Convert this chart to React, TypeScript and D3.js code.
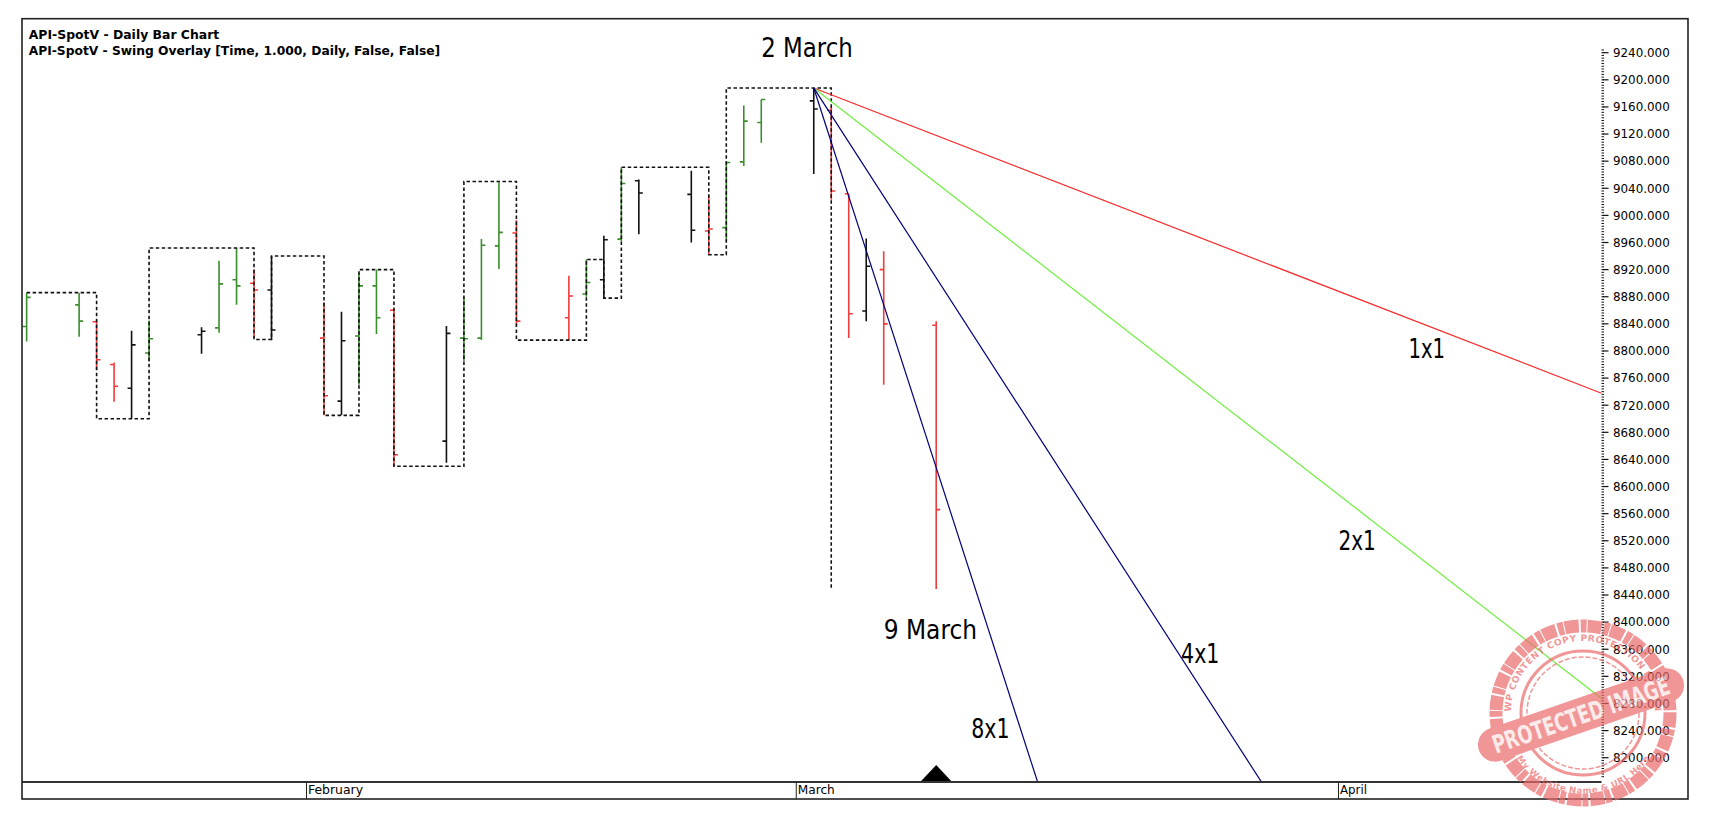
import React from 'react';
import * as d3 from 'd3';

// ---------- data ----------
const barDates = [
  '2015-01-16', '2015-01-19', '2015-01-20', '2015-01-21', '2015-01-22', '2015-01-23',
  '2015-01-26', '2015-01-27', '2015-01-28', '2015-01-29', '2015-01-30',
  '2015-02-02', '2015-02-03', '2015-02-04', '2015-02-05', '2015-02-06',
  '2015-02-09', '2015-02-10', '2015-02-11', '2015-02-12', '2015-02-13',
  '2015-02-16', '2015-02-17', '2015-02-18', '2015-02-19', '2015-02-20',
  '2015-02-23', '2015-02-24', '2015-02-25', '2015-02-26', '2015-02-27',
  '2015-03-02', '2015-03-03', '2015-03-04', '2015-03-05', '2015-03-06',
  '2015-03-09',
];
const barOpens = [
  8836, 8868, 8843, 8780, 8745, 8797,
  8824, 8834, 8905, 8900, 8890,
  8819, 8726, 8822, 8896, 8860,
  8667, 8819, 8819, 8955, 8974,
  8849, 8884, 8905, 8965, 9051,
  9031, 8977, 8982, 9079, 9137,
  9169, 9155, 9032, 8859, 8920,
  8838,
];
const barHighs = [
  8886, 8886, 8845, 8783, 8830, 8845,
  8835, 8933, 8952, 8920, 8940,
  8872, 8858, 8915, 8920, 8862,
  8837, 8878, 8965, 9049, 8993,
  8911, 8935, 8970, 9071, 9053,
  9066, 9029, 9080, 9162, 9171,
  9188, 9160, 9032, 8966, 8947,
  8844,
];
const barLows = [
  8814, 8821, 8772, 8725, 8700, 8785,
  8796, 8827, 8868, 8819, 8816,
  8705, 8705, 8750, 8825, 8630,
  8635, 8785, 8816, 8921, 8838,
  8816, 8880, 8878, 8962, 8972,
  8960, 8942, 8962, 9073, 9107,
  9061, 9023, 8819, 8844, 8750,
  8449,
];
const barCloses = [
  8879, 8844, 8787, 8748, 8809, 8818,
  8829, 8899, 8896, 8890, 8831,
  8734, 8815, 8896, 8849, 8647,
  8826, 8818, 8956, 8975, 8844,
  8881, 8901, 8964, 9047, 9033,
  8978, 8980, 9078, 9139, 9171,
  9157, 9036, 8855, 8925, 8840,
  8566,
];
// g = up swing bar, r = down swing bar, k = inside/outside bar
const barKinds = [
  'g', 'g', 'r', 'r', 'k', 'g',
  'k', 'g', 'g', 'r', 'k',
  'r', 'k', 'g', 'g', 'r',
  'k', 'g', 'g', 'g', 'r',
  'r', 'g', 'k', 'g', 'k',
  'k', 'r', 'g', 'g', 'g',
  'k', 'r', 'r', 'k', 'r',
  'r',
];

const swingDates = [
  '2015-01-16', '2015-01-20', '2015-01-23', '2015-01-29', '2015-01-30', '2015-02-02',
  '2015-02-04', '2015-02-06', '2015-02-10', '2015-02-13', '2015-02-17', '2015-02-18',
  '2015-02-19', '2015-02-24', '2015-02-25', '2015-03-03',
];
const swingValues = [
  8886, 8700, 8952, 8817, 8940, 8705,
  8920, 8630, 9050, 8816, 8935, 8878,
  9071, 8942, 9188, 8450,
];

const fanOriginDate = '2015-03-02';
const fanOriginValue = 9188;
const fanRates = [10, 20, 40, 80]; // points per calendar day
const fanNames = ['1x1', '2x1', '4x1', '8x1'];
const fanColors = ['#f52a2a', '#6cf03c', '#00007a', '#00007a'];

const annotationTexts = ['2 March', '9 March', '1x1', '2x1', '4x1', '8x1'];
const annotationDates = ['2015-02-27', '2015-03-06', '2015-04-05', '2015-04-01', '2015-03-23', '2015-03-11'];
const annotationValues = [9233, 8375, 8790, 8506, 8340, 8229];
const annotationWidths = [91.6, 93.4, 36.7, 37.3, 38.3, 38.3];

const priceTicks = d3.range(8200, 9241, 40);
const monthDates = ['2015-02-01', '2015-03-01', '2015-04-01'];
const monthNames = ['February', 'March', 'April'];
const monthWidths = [55, 37, 27];

const titleLines = [
  'API-SpotV - Daily Bar Chart',
  'API-SpotV - Swing Overlay [Time, 1.000, Daily, False, False]',
];
const titleWidths = [190.6, 411.5];

const markerDate = '2015-03-09';

// ---------- layout ----------
const W = 1722;
const H = 824;
const FRAME = { left: 22, top: 18.7, right: 1688, bottom: 799 };
const PLOT = { left: 22, top: 18.7, right: 1601.5, bottom: 782 };

const colorOf: Record<string, string> = { g: '#3b8e2c', r: '#f23b3b', k: '#111111' };

export default function App() {
  const parse = d3.utcParse('%Y-%m-%d');
  const p = (s: string) => parse(s) as Date;
  const x = d3.scaleUtc().domain([p('2015-02-01'), p('2015-04-01')]).range([306.5, 1338.5]);
  const y = d3.scaleLinear().domain([8200, 9240]).range([757.7, 52.7]);

  const tickLen = 4;
  const bars = barDates.map((d, i) => {
    const cx = x(p(d));
    return {
      key: d,
      color: colorOf[barKinds[i]],
      path: `M${cx},${y(barHighs[i])}V${y(barLows[i])}M${cx - tickLen},${y(barOpens[i])}H${cx}M${cx},${y(barCloses[i])}H${cx + tickLen}`,
    };
  });

  const swingLine = d3
    .line<number>()
    .x((i) => x(p(swingDates[i])))
    .y((i) => y(swingValues[i]))
    .curve(d3.curveStepAfter)(swingDates.map((_, i) => i)) as string;

  const origin = p(fanOriginDate);
  const dayMs = 86400000;
  const daysToRight = (x.invert(PLOT.right).getTime() - origin.getTime()) / dayMs;
  const bottomValue = y.invert(PLOT.bottom);
  const fans = fanRates.map((r, i) => {
    const t = Math.min(daysToRight, (fanOriginValue - bottomValue) / r);
    const end = new Date(origin.getTime() + t * dayMs);
    return {
      key: fanNames[i],
      color: fanColors[i],
      x1: x(origin), y1: y(fanOriginValue),
      x2: x(end), y2: y(fanOriginValue - r * t),
    };
  });

  const minorTicks = d3.range(8164, 9248, 4).filter((v) => y(v) < PLOT.bottom - 4 && y(v) > PLOT.top + 28);

  const markerX = x(p(markerDate));

  // stamp
  const sc = { x: 1583, y: 713 };
  const stampColor = '#ec6b6b';

  return (
    <svg width={W} height={H} style={{ position: 'absolute', left: 0, top: 0, background: '#fff' }}
      fontFamily="'DejaVu Sans', Verdana, sans-serif">
      <defs>
        <clipPath id="plotClip">
          <rect x={PLOT.left} y={PLOT.top} width={PLOT.right - PLOT.left} height={PLOT.bottom - PLOT.top} />
        </clipPath>
        <path id="arcTop" d={`M${sc.x - 72},${sc.y} A72,72 0 0,1 ${sc.x + 72},${sc.y}`} />
        <path id="arcBottom" d={`M${sc.x - 74},${sc.y} A74,74 0 0,0 ${sc.x + 74},${sc.y}`} />
      </defs>
      <rect x={0} y={0} width={W} height={H} fill="#fff" />

      {/* titles */}
      {titleLines.map((t, i) => (
        <text key={t} x={28.7} y={38.5 + i * 16.5} fontSize={11.5} fontWeight="bold" fill="#000"
          textLength={titleWidths[i]} lengthAdjust="spacingAndGlyphs">{t}</text>
      ))}

      <g clipPath="url(#plotClip)">
        {/* bars */}
        {bars.map((b) => (
          <path key={b.key} d={b.path} stroke={b.color} strokeWidth={1.6} fill="none" />
        ))}
        {/* swing overlay */}
        <path d={swingLine} stroke="#111" strokeWidth={1.6} strokeDasharray="3.5 2.5" fill="none" />
        {/* fan lines */}
        {fans.map((f) => (
          <line key={f.key} x1={f.x1} y1={f.y1} x2={f.x2} y2={f.y2} stroke={f.color} strokeWidth={1.2} />
        ))}
      </g>

      {/* annotations */}
      {annotationTexts.map((t, i) => (
        <text key={t} x={x(p(annotationDates[i]))} y={y(annotationValues[i])} fontSize={26} fill="#000"
          textLength={annotationWidths[i]} lengthAdjust="spacingAndGlyphs">{t}</text>
      ))}

      {/* price axis */}
      {minorTicks.map((v) => (
        <line key={'m' + v} x1={PLOT.right} x2={PLOT.right + 2.5} y1={y(v)} y2={y(v)} stroke="#111" strokeWidth={1} />
      ))}
      {priceTicks.map((v) => (
        <g key={v}>
          <line x1={PLOT.right + 1} x2={PLOT.right + 7} y1={y(v)} y2={y(v)} stroke="#111" strokeWidth={1.2} />
          <text x={1613} y={y(v)} dy="0.36em" fontSize={12} fill="#000"
            textLength={56.7} lengthAdjust="spacingAndGlyphs">{d3.format('.3f')(v)}</text>
        </g>
      ))}

      {/* time axis */}
      <line x1={FRAME.left} x2={PLOT.right} y1={PLOT.bottom} y2={PLOT.bottom} stroke="#333" strokeWidth={2} />
      {monthDates.map((d, i) => {
        const mx = x(p(d));
        return (
          <g key={d}>
            <line x1={mx} x2={mx} y1={PLOT.bottom} y2={FRAME.bottom} stroke="#222" strokeWidth={1} />
            <text x={mx + 1.5} y={794} fontSize={12.5} fill="#000"
              textLength={monthWidths[i]} lengthAdjust="spacingAndGlyphs">{monthNames[i]}</text>
          </g>
        );
      })}
      <path d={`M${markerX - 15},${PLOT.bottom - 1}L${markerX},${PLOT.bottom - 17}L${markerX + 15},${PLOT.bottom - 1}Z`} fill="#000" />

      {/* frame */}
      <rect x={FRAME.left} y={FRAME.top} width={FRAME.right - FRAME.left} height={FRAME.bottom - FRAME.top}
        fill="none" stroke="#222" strokeWidth={1.6} />

      {/* watermark stamp */}
      <g opacity={0.7}>
        <circle cx={sc.x} cy={sc.y} r={87} fill="none" stroke={stampColor} strokeWidth={13} strokeDasharray="14 2 6 1" />
        <circle cx={sc.x} cy={sc.y} r={62} fill="none" stroke={stampColor} strokeWidth={3} />
        <circle cx={sc.x} cy={sc.y} r={56} fill="none" stroke={stampColor} strokeWidth={1.5} strokeDasharray="5 2" />
        <text fontSize={9} fontWeight="bold" fill={stampColor} letterSpacing={0.5}>
          <textPath href="#arcTop" startOffset="50%" textAnchor="middle">WP CONTENT COPY PROTECTION PLUGIN</textPath>
        </text>
        <text fontSize={8.5} fontWeight="bold" fill={stampColor}>
          <textPath href="#arcBottom" startOffset="50%" textAnchor="middle" dominantBaseline="hanging">My Website Name &amp; URL Here</textPath>
        </text>
        <g transform={`translate(${sc.x - 2},${sc.y + 2}) rotate(-19)`}>
          <rect x={-108} y={-17} width={216} height={34} rx={17} fill={stampColor} />
          <text x={0} y={9} textAnchor="middle" fontSize={25} fontWeight="bold" fill="#fbe3e3"
            textLength={186} lengthAdjust="spacingAndGlyphs">PROTECTED IMAGE</text>
        </g>
      </g>
    </svg>
  );
}
